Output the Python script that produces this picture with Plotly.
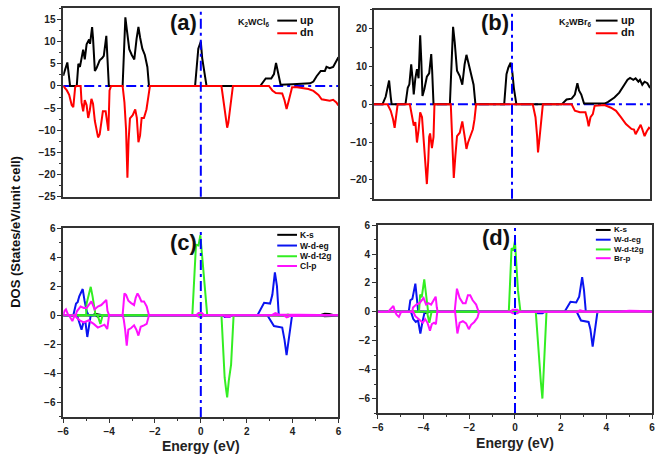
import plotly.graph_objects as go

W, H = 661, 457

# ---------------- data (energy eV, DOS) ----------------
a_up = [(-6.00,2.3),(-5.82,5.3),(-5.70,0),(-5.41,0),(-5.34,5.0),(-5.27,4.3),(-5.13,8.2),(-5.06,6.0),(-4.98,9.4),
        (-4.87,10.5),(-4.83,9.5),(-4.74,13.3),(-4.70,10.8),(-4.62,3.4),(-4.55,4.0),(-4.41,5.8),(-4.30,6.3),(-4.23,6.8),
        (-4.12,11.3),(-4.08,7.0),(-4.01,0),(-3.41,0),(-3.33,11.5),(-3.29,15.5),(-3.22,12.5),(-3.12,8.3),(-3.01,7.0),
        (-2.90,6.0),(-2.80,10.7),(-2.72,13.3),(-2.65,11.0),(-2.55,8.4),(-2.44,7.0),(-2.33,4.3),(-2.26,0),(-0.25,0),
        (-0.11,8.4),(0.00,10.0),(0.06,6.3),(0.15,3.5),(0.25,0),(2.59,0),(2.83,1.7),(3.07,1.7),(3.19,2.7),(3.28,5.2),
        (3.37,2.7),(3.48,0.3),(4.00,0.4),(4.77,0.6),(4.91,1.0),(5.05,2.2),(5.23,3.4),(5.41,3.4),(5.48,4.3),(5.62,4.0),
        (5.77,4.3),(5.91,5.5),(6.00,6.5)]
a_dn = [(-6.00,0),(-5.84,-1.0),(-5.74,-2.0),(-5.63,-4.3),(-5.56,-4.8),(-5.48,-0.3),(-5.44,0),(-5.24,0),(-5.20,-3.7),
        (-5.13,-5.7),(-5.06,-3.2),(-4.98,-4.3),(-4.91,-7.2),(-4.84,-5.5),(-4.77,-2.9),(-4.70,-4.0),(-4.62,-7.9),
        (-4.55,-10.1),(-4.48,-11.6),(-4.41,-10.9),(-4.34,-8.3),(-4.27,-5.7),(-4.15,-5.7),(-4.08,-9.1),(-4.03,-10.1),
        (-3.98,-1.0),(-3.91,0),(-3.41,0),(-3.33,-3.7),(-3.26,-9.8),(-3.20,-20.7),(-3.15,-12.4),(-3.09,-7.3),(-2.97,-6.6),
        (-2.86,-5.3),(-2.79,-7.2),(-2.72,-12.7),(-2.65,-11.2),(-2.58,-7.2),(-2.48,-7.2),(-2.37,-5.3),(-2.29,-2.5),
        (-2.22,0),(0.90,0),(1.01,-3.7),(1.11,-7.5),(1.15,-9.4),(1.20,-8.3),(1.30,-4.5),(1.40,0),(2.97,0),(3.12,-1.0),
        (3.27,-1.6),(3.55,-1.7),(3.65,-3.2),(3.74,-5.2),(3.84,-3.2),(3.98,-0.3),(4.20,-0.3),(4.69,-0.7),(4.91,-1.1),
        (5.13,-2.0),(5.27,-3.0),(5.48,-3.1),(5.62,-3.3),(5.77,-3.1),(5.91,-3.7),(6.00,-4.4)]

b_up = [(-6.00,0),(-5.63,0),(-5.49,2.0),(-5.39,5.0),(-5.34,6.3),(-5.27,2.0),(-5.23,0),(-4.63,0),(-4.53,4.4),(-4.46,5.3),
        (-4.38,10.6),(-4.31,6.0),(-4.27,2.6),(-4.20,6.9),(-4.13,9.3),(-4.06,6.9),(-3.99,18.3),(-3.94,11.4),(-3.89,2.2),
        (-3.81,4.0),(-3.70,7.3),(-3.60,8.2),(-3.51,13.3),(-3.47,8.9),(-3.41,0),(-2.70,0),(-2.63,13.2),(-2.56,20.5),
        (-2.49,16.5),(-2.39,8.9),(-2.27,7.5),(-2.16,5.2),(-2.06,10.6),(-1.98,13.1),(-1.88,10.6),(-1.77,8.0),(-1.67,5.2),
        (-1.59,0),(-0.34,0),(-0.24,8.0),(-0.16,9.7),(-0.06,11.0),(0.01,8.7),(0.08,4.3),(0.19,0),(2.16,0),(2.37,1.3),
        (2.59,1.5),(2.73,2.6),(2.84,5.6),(2.91,3.7),(3.01,2.6),(3.13,0.2),(4.02,0.2),(4.16,0.6),(4.45,1.8),(4.66,3.1),
        (4.88,5.2),(5.02,6.5),(5.13,7.0),(5.27,6.5),(5.37,6.9),(5.49,6.0),(5.56,6.5),(5.66,5.2),(5.76,6.0),(5.88,5.6),
        (6.00,4.3)]
b_dn = [(-6.00,0),(-5.41,0),(-5.27,-1.7),(-5.17,-3.9),(-5.10,-6.2),(-5.04,-3.4),(-4.97,0),(-4.44,0),(-4.34,-3.9),
        (-4.27,-5.6),(-4.20,-4.7),(-4.13,-10.1),(-4.06,-6.8),(-3.99,-2.1),(-3.91,-3.4),(-3.84,-8.6),(-3.77,-14.4),
        (-3.70,-21.1),(-3.64,-15.0),(-3.60,-8.6),(-3.56,-7.7),(-3.48,-11.6),(-3.41,-8.6),(-3.37,0),(-2.66,0),(-2.61,-7.1),
        (-2.53,-19.5),(-2.46,-13.5),(-2.39,-8.4),(-2.27,-7.5),(-2.16,-4.5),(-2.06,-8.4),(-1.98,-11.8),(-1.91,-10.1),
        (-1.84,-8.8),(-1.70,-6.6),(-1.63,-4.0),(-1.56,0),(0.90,0),(1.02,-3.4),(1.09,-8.4),(1.13,-12.7),(1.19,-9.3),
        (1.26,-4.3),(1.34,0),(2.59,0),(2.73,-1.7),(2.95,-2.1),(3.19,-2.1),(3.27,-3.9),(3.33,-5.8),(3.41,-3.4),(3.51,-2.6),
        (3.59,-0.4),(4.02,-0.2),(4.30,-0.9),(4.52,-1.7),(4.73,-3.4),(4.95,-5.2),(5.19,-6.5),(5.30,-6.7),(5.37,-7.9),
        (5.48,-6.5),(5.59,-5.4),(5.66,-6.6),(5.76,-8.4),(5.85,-7.2),(5.95,-6.2),(6.00,-6.5)]

c_ks_up = [(-6,0),(-4.7,0),(-4.6,0.1),(-4.4,0.05),(-4.3,0),(5.2,0),(5.4,0.1),(5.6,0.08),(5.8,0),(6,0)]
c_ks_dn = [(-6,0),(-4.6,0),(-4.5,-0.1),(-4.3,0),(5.2,0),(5.4,-0.08),(5.7,-0.05),(6,0)]
c_eg_up = [(-6,0),(-5.56,0),(-5.44,0.8),(-5.37,0.9),(-5.30,1.3),(-5.15,1.8),(-5.07,1.0),(-4.98,0.3),(-4.90,0),
           (2.47,0),(2.76,0.85),(3.02,0.8),(3.12,1.4),(3.23,2.95),(3.32,2.0),(3.40,0),(6,0)]
c_eg_dn = [(-6,0),(-5.40,0),(-5.34,-0.3),(-5.20,-1.0),(-5.12,-0.5),(-5.03,-0.5),(-4.95,-1.5),(-4.87,-0.7),(-4.80,0),
           (0.95,0),(1.05,-0.12),(1.25,-0.12),(1.35,0),(2.90,0),(3.19,-0.75),(3.55,-0.85),(3.65,-1.7),(3.74,-2.75),
           (3.84,-1.5),(3.98,0),(6,0)]
c_t2g_up = [(-6,0),(-5.0,0),(-4.98,0.8),(-4.88,1.4),(-4.80,1.95),(-4.72,1.3),(-4.60,0.1),(-4.55,0),(-0.37,0),
            (-0.21,4.85),(-0.10,4.8),(-0.02,5.5),(0.07,4.0),(0.18,1.7),(0.28,0),(3.7,0),(3.8,0.05),(3.9,0),(6,0)]
c_t2g_dn = [(-6,0),(-4.50,0),(-4.38,-0.6),(-4.28,0),(0.90,0),(1.04,-4.3),(1.11,-5.2),(1.15,-5.65),(1.22,-4.5),
            (1.32,-3.4),(1.43,0),(3.7,0),(3.8,-0.1),(3.9,0),(6,0)]
c_p_up = [(-6,0),(-5.94,0.3),(-5.88,0.4),(-5.78,0),(-5.45,0),(-5.41,0.25),(-5.24,0.6),(-5.10,0.5),(-4.98,0.5),
          (-4.77,0.95),(-4.63,0.4),(-4.49,0.6),(-4.34,0.7),(-4.20,0.9),(-4.12,1.05),(-4.07,0.3),(-4.00,0),(-3.41,0),
          (-3.33,1.5),(-3.26,1.4),(-3.16,1.0),(-3.05,0.85),(-2.91,0.7),(-2.84,1.2),(-2.76,1.5),(-2.69,1.3),(-2.59,0.95),
          (-2.48,0.95),(-2.36,0.6),(-2.26,0),(-0.2,0),(-0.1,0.15),(0.05,0.15),(0.15,0),(3.1,0),(3.25,0.15),(3.4,0.05),(6,0)]
c_p_dn = [(-6,0),(-5.75,0),(-5.60,-0.4),(-5.50,0),(-5.40,-0.2),(-5.24,-0.4),(-5.10,-0.5),(-4.88,-0.35),(-4.77,-0.5),
          (-4.67,-0.6),(-4.49,-0.85),(-4.34,-0.75),(-4.20,-0.65),(-4.08,-0.95),(-4.03,-0.3),(-4.00,0),(-3.41,0),
          (-3.36,-0.3),(-3.30,-1.0),(-3.23,-2.1),(-3.16,-1.0),(-3.05,-0.9),(-2.91,-0.7),(-2.81,-1.0),(-2.72,-1.4),
          (-2.62,-0.8),(-2.48,-0.7),(-2.36,-0.6),(-2.26,0),(-0.2,0),(-0.1,-0.1),(0.05,-0.1),(0.15,0),(1.0,0),
          (1.1,-0.1),(1.25,-0.1),(1.35,0),(3.6,0),(3.75,-0.15),(3.9,-0.05),(6,0)]

d_ks_up = [(-6,0),(-4.0,0),(-3.95,0.05),(-3.8,0.02),(-3.7,0),(6,0)]
d_ks_dn = [(-6,0),(-4.0,0),(-3.92,-0.08),(-3.78,-0.04),(-3.7,0),(6,0)]
d_eg_up = [(-6,0),(-4.65,0),(-4.58,0.8),(-4.49,0.9),(-4.36,1.95),(-4.30,0.9),(-4.24,0.1),(-4.2,0),(2.17,0),
           (2.43,0.7),(2.68,0.65),(2.81,1.05),(2.94,2.4),(3.02,1.5),(3.10,0),(6,0)]
d_eg_dn = [(-6,0),(-4.55,0),(-4.45,-0.5),(-4.34,-0.7),(-4.24,-0.6),(-4.14,-1.5),(-4.05,-0.7),(-3.95,0),(0.9,0),
           (1.0,-0.1),(1.2,-0.1),(1.3,0),(2.70,0),(2.89,-0.6),(3.22,-0.7),(3.30,-1.2),(3.40,-2.4),(3.47,-1.5),(3.61,0),(6,0)]
d_t2g_up = [(-6,0),(-5.2,0),(-5.1,0.05),(-5.0,0),(-4.2,0),(-4.15,1.2),(-4.08,1.0),(-3.97,2.25),(-3.91,1.5),
            (-3.83,0.1),(-3.8,0),(-0.27,0),(-0.15,4.4),(-0.07,4.3),(0.0,4.9),(0.06,3.3),(0.13,1.5),(0.24,0),(6,0)]
d_t2g_dn = [(-6,0),(-3.85,0),(-3.75,-0.75),(-3.65,0),(0.91,0),(1.03,-3.0),(1.13,-4.8),(1.20,-6.0),(1.28,-3.5),
            (1.38,0),(3.5,0),(3.6,-0.05),(3.7,0),(6,0)]
d_p_up = [(-6,0),(-5.55,0),(-5.47,0.15),(-5.32,0.4),(-5.25,0),(-4.50,0),(-4.46,0.3),(-4.32,0.5),(-4.18,0.6),
          (-4.00,0.95),(-3.89,0.5),(-3.79,0.6),(-3.67,0.5),(-3.54,0.85),(-3.47,1.05),(-3.42,0.3),(-3.38,0),(-2.64,0),
          (-2.54,1.6),(-2.42,0.95),(-2.28,0.6),(-2.16,0.6),(-2.06,1.15),(-1.96,1.15),(-1.85,0.8),(-1.70,0.5),(-1.59,0),
          (-0.2,0),(-0.1,0.15),(0.1,0.15),(0.2,0),(2.7,0),(2.85,0.1),(3.0,0.05),(3.1,0),(4.5,0),(5.0,0.08),(5.5,0.05),(6,0)]
d_p_dn = [(-6,0),(-5.25,0),(-5.18,-0.2),(-5.08,-0.35),(-4.98,0),(-4.45,0),(-4.36,-0.3),(-4.22,-0.5),(-4.03,-0.75),
          (-3.93,-0.5),(-3.83,-0.75),(-3.72,-1.3),(-3.64,-0.85),(-3.54,-0.75),(-3.46,-0.85),(-3.40,0),(-2.62,0),
          (-2.52,-1.5),(-2.42,-0.75),(-2.28,-0.65),(-2.14,-0.8),(-2.02,-1.2),(-1.92,-0.9),(-1.78,-0.7),(-1.64,-0.4),
          (-1.57,0),(-0.2,0),(-0.1,-0.1),(0.1,-0.1),(0.2,0),(6,0)]

spin_names = ["up", "dn"]
pdos_names_c = ["K-s", "W-d-eg", "W-d-t2g", "Cl-p"]
pdos_names_d = ["K-s", "W-d-eg", "W-d-t2g", "Br-p"]
panel_labels = ["(a)", "(b)", "(c)", "(d)"]
compounds = ["K<sub>2</sub>WCl<sub>6</sub>", "K<sub>2</sub>WBr<sub>6</sub>"]
ytick_top_a = [15, 10, 5, 0, -5, -10, -15, -20, -25]
ytick_top_b = [20, 10, 0, -10, -20]
ytick_bot = [6, 4, 2, 0, -2, -4, -6]
xtick_bot = [-6, -4, -2, 0, 2, 4, 6]

# ---------------- style ----------------
FONT = "Liberation Sans, Arial, sans-serif"
SPIN_COL = ["#000000", "#ff0000"]
PDOS_COL = ["#000000", "#0a14f0", "#33ee22", "#ff10ff"]
AXC = "#333333"
DASHDOT = "10px,4px,3px,4px"


def X(p):
    return [q[0] for q in p]


def Y(p):
    return [q[1] for q in p]


def px(x):
    return x / W


def py(y):
    return 1 - y / H


fig = go.Figure()

# top panels
for k, (up, dn) in enumerate([(a_up, a_dn), (b_up, b_dn)]):
    ax = "" if k == 0 else "2"
    for s, ser in enumerate([up, dn]):
        fig.add_trace(go.Scatter(x=X(ser), y=Y(ser), mode="lines", name=spin_names[s],
                                 line=dict(color=SPIN_COL[s], width=2),
                                 xaxis="x" + ax, yaxis="y" + ax, showlegend=False))

# bottom panels
for k, sets in enumerate([[(c_ks_up, c_ks_dn), (c_eg_up, c_eg_dn), (c_t2g_up, c_t2g_dn), (c_p_up, c_p_dn)],
                          [(d_ks_up, d_ks_dn), (d_eg_up, d_eg_dn), (d_t2g_up, d_t2g_dn), (d_p_up, d_p_dn)]]):
    ax = str(k + 3)
    names = pdos_names_c if k == 0 else pdos_names_d
    for j, (up, dn) in enumerate(sets):
        for ser in (up, dn):
            fig.add_trace(go.Scatter(x=X(ser), y=Y(ser), mode="lines", name=names[j],
                                     line=dict(color=PDOS_COL[j], width=2),
                                     xaxis="x" + ax, yaxis="y" + ax, showlegend=False))

tickfont = dict(family=FONT, size=10, color="#222222", weight="bold")

dom = {
    "a": ([58, 337], [2, 196]),
    "b": ([373, 653], [4, 198]),
    "c": ([58, 337], [228, 422]),
    "d": ([377, 655], [225, 418]),
}


def xd(k):
    return [px(dom[k][0][0]), px(dom[k][0][1])]


def yd(k):
    return [py(dom[k][1][1]), py(dom[k][1][0])]


common_axis = dict(showline=True, linecolor=AXC, linewidth=1.5, mirror=True, showgrid=False, zeroline=False,
                   tickfont=tickfont, tickcolor=AXC)
xtitle = dict(text="Energy (eV)", font=dict(family=FONT, size=14, color="#222222", weight="bold"), standoff=6)

layout = dict(
    width=W, height=H, margin=dict(l=0, r=0, t=0, b=0),
    paper_bgcolor="white", plot_bgcolor="white", showlegend=False,
    xaxis=dict(domain=xd("a"), range=[-6, 6], anchor="y", showticklabels=False, ticks="", **common_axis),
    yaxis=dict(domain=yd("a"), range=[-25, 17.6], anchor="x", tickvals=ytick_top_a, ticks="outside", ticklen=4,
               minor=dict(dtick=2.5, ticks="outside", ticklen=2, tickcolor=AXC), **common_axis),
    xaxis2=dict(domain=xd("b"), range=[-6, 6], anchor="y2", showticklabels=False, ticks="", **common_axis),
    yaxis2=dict(domain=yd("b"), range=[-25, 25], anchor="x2", tickvals=ytick_top_b, ticks="outside", ticklen=3,
                minor=dict(dtick=5, ticks="outside", ticklen=2, tickcolor=AXC), **common_axis),
    xaxis3=dict(domain=xd("c"), range=[-6, 6], anchor="y3", tickvals=xtick_bot, ticks="outside", ticklen=4,
                minor=dict(dtick=1, ticks="outside", ticklen=2, tickcolor=AXC), title=xtitle, **common_axis),
    yaxis3=dict(domain=yd("c"), range=[-7, 6], anchor="x3", tickvals=ytick_bot, ticks="outside", ticklen=4,
                minor=dict(dtick=1, ticks="outside", ticklen=2, tickcolor=AXC), **common_axis),
    xaxis4=dict(domain=xd("d"), range=[-6, 6], anchor="y4", tickvals=xtick_bot, ticks="outside", ticklen=4,
                minor=dict(dtick=1, ticks="outside", ticklen=2, tickcolor=AXC), title=xtitle, **common_axis),
    yaxis4=dict(domain=yd("d"), range=[-7, 6], anchor="x4", tickvals=ytick_bot, ticks="outside", ticklen=4,
                minor=dict(dtick=1, ticks="outside", ticklen=2, tickcolor=AXC), **common_axis),
)
fig.update_layout(**layout)

shapes = []
blue = "#0000ff"
# horizontal zero lines (top panels) and vertical Fermi lines
for ax in ["", "2"]:
    shapes.append(dict(type="line", xref="x" + ax, yref="y" + ax, x0=-6, x1=6, y0=0, y1=0,
                       line=dict(color=blue, width=2, dash=DASHDOT), layer="below"))
for ax in ["", "2", "3", "4"]:
    shapes.append(dict(type="line", xref="x" + ax, yref="y" + ax + " domain", x0=0, x1=0, y0=0, y1=1,
                       line=dict(color=blue, width=2, dash=DASHDOT), layer="above"))

annotations = []
bold = dict(family=FONT, color="#111111", weight="bold")

# panel labels
for lab, (cx, cy) in zip(panel_labels, [(180, 17), (496, 17), (180, 243), (497, 238)]):
    annotations.append(dict(text=lab, x=px(cx), y=py(cy), xref="paper", yref="paper", showarrow=False,
                            xanchor="center", yanchor="middle", font=dict(size=22, **bold)))

# y title
annotations.append(dict(text="DOS (States/eV/unit cell)", x=px(10), y=py(232), xref="paper", yref="paper",
                        showarrow=False, textangle=-90, xanchor="center", yanchor="middle",
                        font=dict(size=13, **bold)))

# legends for top panels
for k, (tx, lx0, lx1) in enumerate([(270, 275, 295), (596, 598, 620)]):
    annotations.append(dict(text=compounds[k], x=px(tx), y=py(17), xref="paper", yref="paper", showarrow=False,
                            xanchor="right", yanchor="middle", font=dict(size=9, **bold)))
    for s, yy in enumerate([15, 28]):
        shapes.append(dict(type="line", xref="paper", yref="paper", x0=px(lx0), x1=px(lx1), y0=py(yy), y1=py(yy),
                           line=dict(color=SPIN_COL[s], width=2)))
        annotations.append(dict(text=spin_names[s], x=px(lx1 + 1), y=py(yy - 1), xref="paper", yref="paper",
                                showarrow=False, xanchor="left", yanchor="middle", font=dict(size=11, **bold)))

# legends for bottom panels
for k, (lx0, lx1, rows, fs) in enumerate([(275, 295, [235, 246, 257, 267], 8.5), (598, 613, [230, 240, 250, 259], 8)]):
    names = pdos_names_c if k == 0 else pdos_names_d
    for j, yy in enumerate(rows):
        shapes.append(dict(type="line", xref="paper", yref="paper", x0=px(lx0), x1=px(lx1), y0=py(yy), y1=py(yy),
                           line=dict(color=PDOS_COL[j], width=2)))
        annotations.append(dict(text=names[j], x=px(lx1 + 1), y=py(yy), xref="paper", yref="paper",
                                showarrow=False, xanchor="left", yanchor="middle", font=dict(size=fs, **bold)))

fig.update_layout(shapes=shapes, annotations=annotations)
fig.write_html("out.html", config={"displayModeBar": False},
               post_script="document.body.style.margin='0';document.body.style.overflow='hidden';")
